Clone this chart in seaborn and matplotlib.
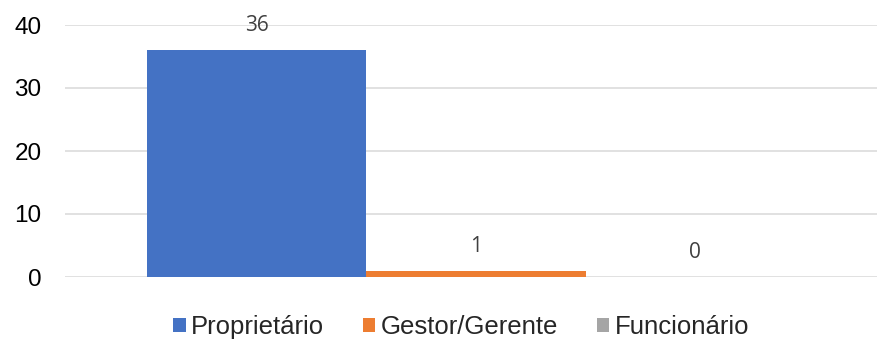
import matplotlib
matplotlib.use("Agg")
import matplotlib.pyplot as plt
from matplotlib.patches import Patch
import seaborn as sns
import pandas as pd

# Chart data
categories = ["Proprietário", "Gestor/Gerente", "Funcionário"]
values = [36, 1, 0]
colors = ["#4472C4", "#ED7D31", "#A5A5A5"]
y_ticks = [0, 10, 20, 30, 40]

sns.set_theme(style="white")
plt.rcParams["font.family"] = ["Liberation Sans", "DejaVu Sans"]

df = pd.DataFrame({"cargo": categories, "n": values})

fig = plt.figure(figsize=(8.77, 3.40), dpi=100)
ax = fig.add_axes([65 / 877, 63 / 340, 1 - 65 / 877, 252 / 340])

sns.barplot(data=df, x="cargo", y="n", hue="cargo", palette=colors,
            saturation=1, width=1.0, errorbar=None, legend=False, ax=ax,
            zorder=3, linewidth=0)

ax.set_xlim(-0.874, 2.828)
ax.set_ylim(0, 40)
ax.set_yticks(y_ticks)
ax.set_yticklabels([str(t) for t in y_ticks], fontsize=17.5, color="#000000")
ax.set_xticks([])
ax.set_xlabel("")
ax.set_ylabel("")
ax.tick_params(axis="y", length=0, pad=17)
ax.grid(axis="y", color="#D9D9D9", linewidth=1.1, zorder=0)
ax.grid(axis="x", visible=False)
for s in ax.spines.values():
    s.set_visible(False)

# Value labels above each bar
for i, v in enumerate(values):
    ax.annotate(str(v), xy=(i, v), xytext=(0, 17.5), textcoords="offset points",
                ha="center", va="center", fontsize=15, color="#404040",
                family=["Open Sans", "DejaVu Sans"], zorder=4)

handles = [Patch(facecolor=c, edgecolor="none", label=l) for c, l in zip(colors, categories)]
fig.legend(handles=handles, loc="center", bbox_to_anchor=(461 / 877, 1 - 327 / 340),
           ncol=3, frameon=False, fontsize=18.5, handlelength=0.5, handleheight=0.5,
           handletextpad=0.2, columnspacing=1.5, borderpad=0, borderaxespad=0)

fig.savefig("out.png", dpi=100)
